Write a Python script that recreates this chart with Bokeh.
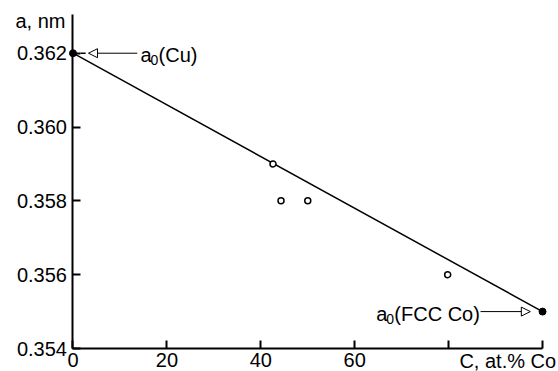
from bokeh.plotting import figure
from bokeh.models import Range1d, Label, Arrow, NormalHead, FixedTicker
from bokeh.embed import file_html
from bokeh.resources import INLINE

# Data
conc_end = [0, 100]              # at.% Co, pure Cu and pure FCC Co
a_end = [0.362, 0.355]           # lattice parameter, nm
conc_meas = [42.6, 44.3, 50.0, 79.8]
a_meas = [0.359, 0.358, 0.358, 0.356]
x_ticks = [0, 20, 40, 60, 80, 100]
x_tick_labels = ["0", "20", "40", "60", "", ""]
y_ticks = [0.354, 0.356, 0.358, 0.360, 0.362]
y_tick_labels = ["0.354", "0.356", "0.358", "0.360", "0.362"]

FONT = "Liberation Sans"
FS = "20px"

p = figure(width=558, height=371, output_backend="svg", toolbar_location=None,
           x_range=Range1d(-15.44, 103.4), y_range=Range1d(0.353377, 0.363428),
           min_border_left=0, min_border_right=0, min_border_top=0, min_border_bottom=0)
p.outline_line_color = None
p.grid.visible = False
p.background_fill_color = "white"

for ax in (p.xaxis[0], p.yaxis[0]):
    ax.axis_line_width = 2
    ax.major_tick_line_width = 2
    ax.major_tick_in = 8
    ax.major_tick_out = 0
    ax.minor_tick_line_color = None
    ax.major_label_text_font = FONT
    ax.major_label_text_font_size = FS
    ax.major_label_text_color = "black"
    ax.axis_line_color = "black"
    ax.major_tick_line_color = "black"

p.xaxis[0].ticker = FixedTicker(ticks=x_ticks)
p.xaxis[0].major_label_overrides = {t: l for t, l in zip(x_ticks, x_tick_labels)}
p.xaxis[0].major_label_standoff = 4
p.xaxis[0].fixed_location = y_ticks[0]
p.xaxis[0].bounds = (x_ticks[0], x_ticks[-1])
p.yaxis[0].ticker = FixedTicker(ticks=y_ticks)
p.yaxis[0].major_label_overrides = {t: l for t, l in zip(y_ticks, y_tick_labels)}
p.yaxis[0].major_label_standoff = 6
p.yaxis[0].fixed_location = x_ticks[0]
p.yaxis[0].bounds = (y_ticks[0], 0.36305)

# Vegard line
p.line(conc_end, a_end, line_color="black", line_width=1.5)
# end points
p.scatter(conc_end, a_end, size=7, marker="circle", fill_color="black", line_color="black")
# measured points
p.scatter(conc_meas, a_meas, size=6, marker="circle", fill_color="white", line_color="black", line_width=1.5)

# Axis titles
p.add_layout(Label(x=-12.25, y=0.362886, text="a, nm", text_font=FONT, text_font_size=FS,
                   text_color="black", text_baseline="middle", text_align="left"))
p.add_layout(Label(x=82.3, y=0.353660, text="C, at.% Co", text_font=FONT, text_font_size=FS,
                   text_color="black", text_baseline="middle", text_align="left"))

def sub_label(x, y, main, sub, rest):
    p.add_layout(Label(x=x, y=y, y_offset=-2, text=main, text_font=FONT, text_font_size=FS,
                       text_color="black", text_baseline="middle", text_align="left"))
    p.add_layout(Label(x=x, y=y, x_offset=10, y_offset=-7, text=sub, text_font=FONT,
                       text_color="black", text_font_size="14px", text_baseline="middle",
                       text_align="left"))
    p.add_layout(Label(x=x, y=y, x_offset=18, y_offset=-2, text=rest, text_font=FONT,
                       text_color="black", text_font_size=FS, text_baseline="middle",
                       text_align="left"))

sub_label(14.4, a_end[0], "a", "0", "(Cu)")
sub_label(64.6, a_end[1], "a", "0", "(FCC Co)")

head1 = NormalHead(size=9, fill_color="white", line_color="black", line_width=1)
p.add_layout(Arrow(end=head1, x_start=13.7, y_start=a_end[0], x_end=3.3, y_end=a_end[0],
                   line_color="black", line_width=1))
p.line([1.6, 2.7], [a_end[0], a_end[0]], line_color="black", line_width=1.5)
head2 = NormalHead(size=9, fill_color="white", line_color="black", line_width=1)
p.add_layout(Arrow(end=head2, x_start=86.8, y_start=a_end[1], x_end=97.4, y_end=a_end[1],
                   line_color="black", line_width=1))

open("out.html", "w").write(file_html(p, INLINE))
